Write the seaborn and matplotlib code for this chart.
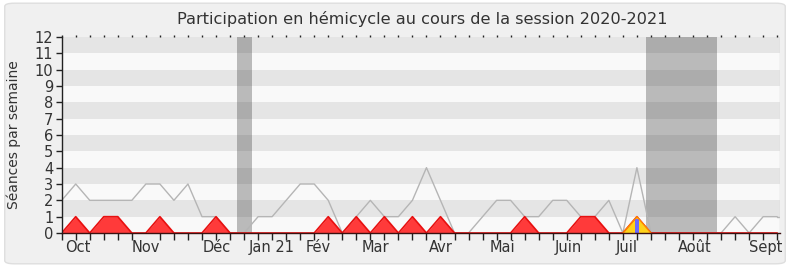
import numpy as np
import pandas as pd
import matplotlib
matplotlib.use("Agg")
import matplotlib.pyplot as plt
from matplotlib.patches import FancyBboxPatch
import seaborn as sns

# ---- data ----
weeks = list(range(52))
total_seances = [2, 3, 2, 2, 2, 2, 3, 3, 2, 3, 1, 1, 0, 0, 1, 1, 2, 3, 3, 2,
                 0, 1, 2, 1, 1, 2, 4, 2, 0, 0, 1, 2, 2, 1, 1, 2, 2, 1, 1, 2,
                 0, 4, 0, 0, 0, 0, 0, 0, 1, 0, 1, 1]
presence_hemicycle = [0, 1, 0, 1, 1, 0, 0, 1, 0, 0, 0, 1, 0, 0, 0, 0, 0, 0, 0, 1,
                      0, 1, 0, 1, 0, 1, 0, 1, 0, 0, 0, 0, 0, 1, 0, 0, 0, 1, 1, 0,
                      0, 1, 0, 0, 0, 0, 0, 0, 0, 0, 0, 0]
presence_other = [0] * 40 + [0, 1, 0] + [0] * 9
interventions = [0] * 41 + [1] + [0] * 10
vacation_spans = [(12.5, 13.55), (41.65, 46.68)]
month_labels = ["Oct", "Nov", "Déc", "Jan 21", "Fév", "Mar", "Avr", "Mai",
                "Juin", "Juil", "Août", "Sept"]
month_pos = [1.15, 6.0, 11.05, 14.95, 18.3, 22.35, 27.05, 31.4, 36.1, 40.3, 45.15, 50.2]
title = "Participation en hémicycle au cours de la session 2020-2021"
ylabel = "Séances par semaine"

df = pd.DataFrame({"semaine": weeks, "total": total_seances,
                   "presence": presence_hemicycle, "autre": presence_other,
                   "interv": interventions})

sns.set_style("white")
plt.rcParams["font.family"] = ["DejaVu Sans"]

fig = plt.figure(figsize=(7.9, 2.67), dpi=100, facecolor="white")
bg = FancyBboxPatch((0.006, 0.012), 0.988, 0.976, boxstyle="round,pad=0,rounding_size=0.012",
                    transform=fig.transFigure, facecolor="#f0f0f0", edgecolor="#dedede",
                    linewidth=1.0, zorder=-10)
fig.patches.append(bg)

ax = fig.add_axes([61.7 / 790, 34 / 267, (780 - 61.7) / 790, 196 / 267])
ax.set_facecolor("#f9f9f9")
xmax = 51.2
ax.set_xlim(0, xmax)
ax.set_ylim(0, 12)

# stripes
for y0 in range(1, 12, 2):
    ax.axhspan(y0, y0 + 1, color="#e5e5e5", lw=0, zorder=0)

# vacation bands
for a, b in vacation_spans:
    ax.axvspan(a, b, color="#2a2a2a", alpha=0.3, lw=0, zorder=1)

# gray total line
sns.lineplot(data=df, x="semaine", y="total", ax=ax, color="#b5b5b5", linewidth=1.0,
             zorder=2, legend=False)
ax.plot([51, xmax], [total_seances[-1], total_seances[-1]], color="#b5b5b5", lw=1.0, zorder=2)

# red presence area
ax.fill_between(df["semaine"], 0, df["presence"], color="#ff3a3a", lw=0, zorder=3)
ax.plot(df["semaine"], df["presence"], color="#e81010", lw=1.2, zorder=3)

# yellow other presence
sub = df.iloc[40:43]
ax.fill_between(sub["semaine"], 0, sub["autre"], color="#ffd21a", lw=0, zorder=4)
ax.plot(sub["semaine"], sub["autre"], color="#ff8a00", lw=1.0, zorder=5)

# blue interventions bar
idx = [i for i, v in enumerate(interventions) if v > 0]
ax.bar([weeks[i] for i in idx], [0.85 * interventions[i] for i in idx], width=0.24,
       color="#6a6aff", lw=0, zorder=4.5)

# axis styling
for s in ["top", "right"]:
    ax.spines[s].set_visible(False)
for s in ["left", "bottom"]:
    ax.spines[s].set_color("#3a1010" if s == "bottom" else "#222222")
    ax.spines[s].set_linewidth(1.0)
    ax.spines[s].set_zorder(10)
ax.axvline(xmax, color="#d8d8d8", lw=1.0, zorder=6)

ax.set_yticks(range(13))
ax.set_yticklabels([str(i) for i in range(13)], fontsize=10.5, color="#333333")
ax.tick_params(axis="y", direction="out", length=4, width=1, color="#222222", pad=2, left=True)

ax.set_xticks(month_pos)
ax.set_xticklabels(month_labels, fontsize=10.5, color="#333333")
ax.tick_params(axis="x", which="major", length=0, pad=5)
ax.set_xticks(weeks, minor=True)
ax.tick_params(axis="x", which="minor", direction="out", length=5, width=1,
               color="#222222", bottom=True, top=False)

# small top ticks
sec = ax.secondary_xaxis("top")
sec.set_xticks(weeks)
sec.set_xticklabels([])
sec.tick_params(axis="x", direction="out", length=1.5, width=1, color="#222222")
sec.spines["top"].set_visible(False)

ax.set_xlabel("")
ax.set_ylabel(ylabel, fontsize=10, color="#333333", labelpad=10)
fig.text((61.7 + 780) / 2 / 790 + 0.002, 1 - 19 / 267, title, ha="center", va="center",
         fontsize=11.6, color="#333333")

fig.savefig("out.png", dpi=100, facecolor=fig.get_facecolor())
